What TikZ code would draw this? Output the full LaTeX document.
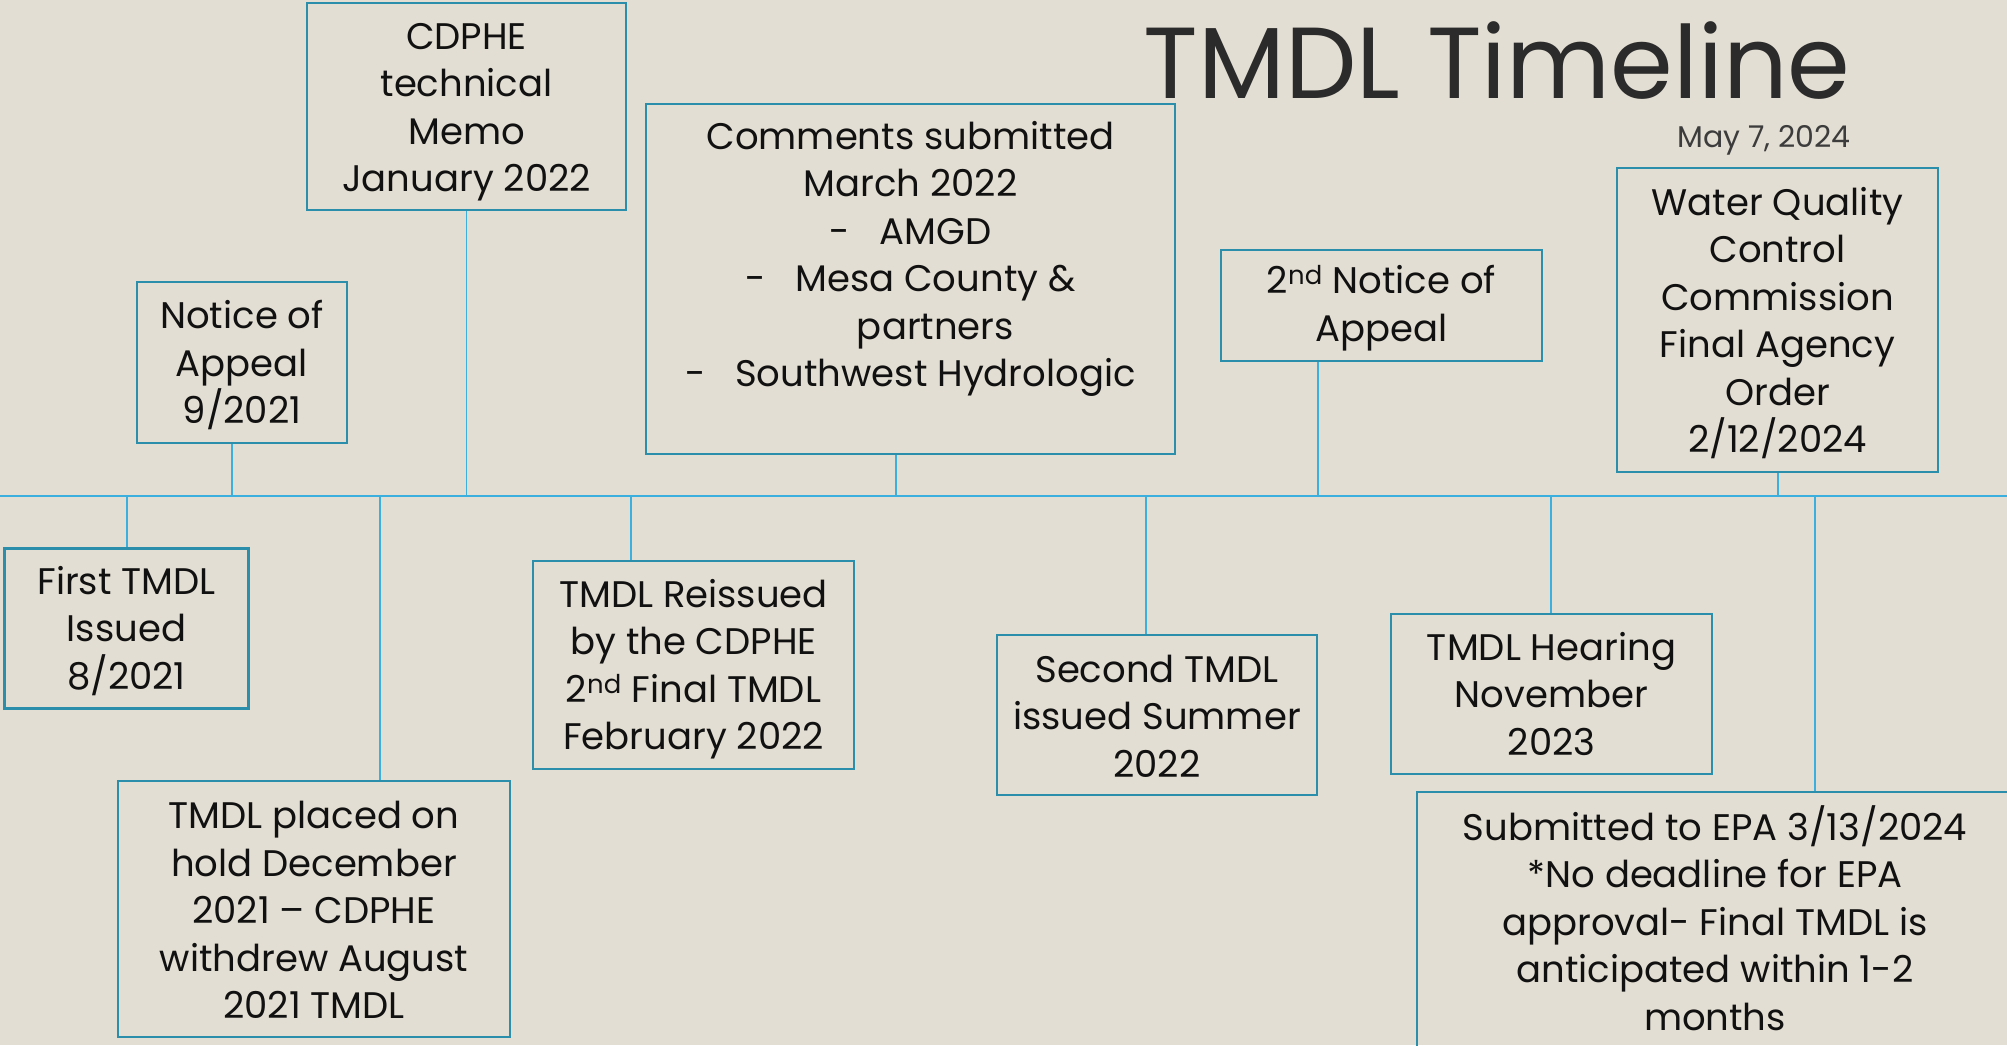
\documentclass[tikz,border=0pt]{standalone}
\usepackage{fontspec}
\setmainfont{Poppins}
\definecolor{paper}{HTML}{E3DED3}
\definecolor{boxline}{HTML}{2B8EAB}
\definecolor{tickline}{HTML}{3BB0DE}
\definecolor{ink}{HTML}{111111}
\definecolor{titleink}{HTML}{2B2B2B}
\definecolor{dateink}{HTML}{3C3C3C}
\newcommand{\dashitem}[1]{\makebox[50pt][l]{-}#1}
\begin{document}
\begin{tikzpicture}[x=1pt,y=-1pt,
  event/.style={draw=boxline, line width=2.4pt, align=center, inner sep=0pt,
    font=\fontsize{37}{47.5}\selectfont, text=ink},
  frame/.style={draw=boxline, line width=2.4pt, inner sep=0pt},
  plain/.style={align=center, inner sep=0pt,
    font=\fontsize{37}{47.5}\selectfont, text=ink},
  link/.style={draw=tickline, line width=1.8pt}]

% page background
\fill[paper] (0,0) rectangle (2007,1045);
\useasboundingbox (0,0) rectangle (2007,1045);

% heading
\node[anchor=base, inner sep=0pt, font=\fontsize{101}{112}\selectfont, text=titleink] (title) at (1497,98) {TMDL Timeline};
\node[anchor=base, inner sep=0pt, font=\fontsize{30}{36}\selectfont, text=dateink] (date) at (1764,147) {May 7, 2024};

% main time axis
\coordinate (axisL) at (0,496);
\coordinate (axisR) at (2007,496);
\draw[link] (axisL) -- (axisR);

% events above the axis
\node[frame, minimum width=319pt, minimum height=207pt] (memo) at (466.5,106.5) {};
\node[plain] (memotext) at (466.5,112)
  {CDPHE\\technical\\Memo\\January 2022};
\node[frame, minimum width=210pt, minimum height=161pt] (noa1) at (242,362.5) {};
\node[plain] (noa1text) at (242,365.5)
  {Notice of\\Appeal\\9/2021};
\node[frame, minimum width=529pt, minimum height=350pt] (comments) at (910.5,279) {};
\node[plain] (commentstext) at (910.5,259)
  {Comments submitted\\March 2022\\\dashitem{AMGD}\\\dashitem{Mesa County \&}\\\hspace*{50pt}partners\\\dashitem{Southwest Hydrologic}};
\node[frame, minimum width=321pt, minimum height=111pt] (noa2) at (1381.5,305.5) {};
\node[plain] (noa2text) at (1381.5,308)
  {2\textsuperscript{nd} Notice of\\Appeal};
\node[frame, minimum width=321pt, minimum height=304pt] (wqcc) at (1777.5,320) {};
\node[plain] (wqcctext) at (1777.5,323)
  {Water Quality\\Control\\Commission\\Final Agency\\Order\\2/12/2024};

% events below the axis
\node[frame, minimum width=244pt, minimum height=160pt] (first) at (126.5,628.5) {};
\node[plain] (firsttext) at (126.5,631)
  {First TMDL\\Issued\\8/2021};
\node[frame, minimum width=392pt, minimum height=256pt] (hold) at (314,909) {};
\node[plain] (holdtext) at (314,910)
  {TMDL placed on\\hold December\\2021 -- CDPHE\\withdrew August\\2021 TMDL};
\node[frame, minimum width=321pt, minimum height=208pt] (reissued) at (693.5,665) {};
\node[plain] (reissuedtext) at (693.5,669)
  {TMDL Reissued\\by the CDPHE\\2\textsuperscript{nd} Final TMDL\\February 2022};
\node[frame, minimum width=320pt, minimum height=160pt] (second) at (1157,715) {};
\node[plain] (secondtext) at (1157,716)
  {Second TMDL\\issued Summer\\2022};
\node[frame, minimum width=321pt, minimum height=160pt] (hearing) at (1551.5,694) {};
\node[plain] (hearingtext) at (1551.5,694)
  {TMDL Hearing\\November\\2023};
\node[frame, minimum width=596pt, minimum height=300pt] (epa) at (1715,942) {};
\node[plain] (epatext) at (1715,918)
  {Submitted to EPA 3/13/2024\\*No deadline for EPA\\approval- Final TMDL is\\anticipated within 1-2\\months};

% tick points on the axis
\coordinate (tnoa1) at (232,496);
\coordinate (tmemo) at (466.5,496);
\coordinate (tcomments) at (896,496);
\coordinate (tnoa2) at (1318,496);
\coordinate (twqcc) at (1778,496);
\coordinate (tfirst) at (127,496);
\coordinate (thold) at (380,496);
\coordinate (treissued) at (631,496);
\coordinate (tsecond) at (1146,496);
\coordinate (thearing) at (1551,496);
\coordinate (tepa) at (1815,496);

% connectors from the axis to each event
\draw[link] (tnoa1) -- (tnoa1 |- noa1.south);
\draw[link] (tmemo) -- (tmemo |- memo.south);
\draw[link] (tcomments) -- (tcomments |- comments.south);
\draw[link] (tnoa2) -- (tnoa2 |- noa2.south);
\draw[link] (twqcc) -- (twqcc |- wqcc.south);
\draw[link] (tfirst) -- (tfirst |- first.north);
\draw[link] (thold) -- (thold |- hold.north);
\draw[link] (treissued) -- (treissued |- reissued.north);
\draw[link] (tsecond) -- (tsecond |- second.north);
\draw[link] (thearing) -- (thearing |- hearing.north);
\draw[link] (tepa) -- (tepa |- epa.north);
\end{tikzpicture}
\end{document}
